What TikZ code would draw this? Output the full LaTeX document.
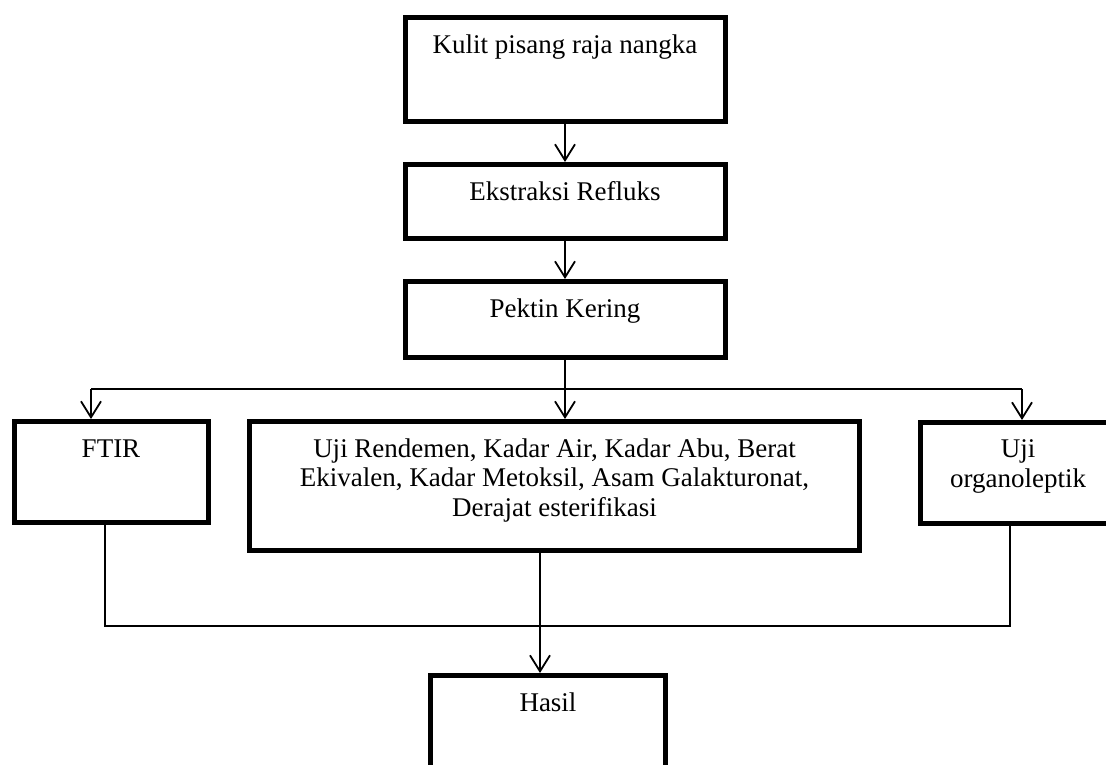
\documentclass[tikz,border=0pt]{standalone}
\usepackage{fontspec}
\setmainfont{Liberation Serif}
\usetikzlibrary{arrows.meta,positioning}

\begin{document}
\begin{tikzpicture}[x = 1pt, y = -1pt, thin line/.style = {line width = 1.8pt}, link/.style = {thin line, -{Straight Barb[length = 16pt, width = 20pt]}}, box/.style = {draw, line width = 5pt, anchor = north, inner xsep = 0pt, inner ysep = 0pt, align = center, text height = 36pt, font = \fontsize{27}{29.5}\selectfont}]
\useasboundingbox (0,0) rectangle (1106,764);
\clip (0,0) rectangle (1106,764);

\node[box, minimum width = 320pt, text height = 35.5pt, text depth = 68.5pt] (kulit) at (565,15) {Kulit pisang raja nangka};
\node[box, minimum width = 320pt, text height = 35.5pt, text depth = 38.5pt] (refluks) at (565,162) {Ekstraksi Refluks};
\node[box, minimum width = 320pt, text depth = 40pt] (pektin) at (565,279) {Pektin Kering};

\node[box, minimum width = 194pt, text height = 35.5pt, text depth = 65.5pt] (ftir) at (111,419) {FTIR};
\node[box, minimum width = 610pt, text height = 94.5pt, text depth = 34.5pt] (uji) at (554.5,419) {Uji Rendemen, Kadar Air, Kadar Abu, Berat\\ Ekivalen, Kadar Metoksil, Asam Galakturonat,\\ Derajat esterifikasi};
\node[box, minimum width = 195pt, text height = 64.5pt, text depth = 36.5pt] (organo) at (1018,420) {Uji\\ organoleptik};
\node[box, minimum width = 235pt, text depth = 100pt] (hasil) at (548,673) {Hasil};

\coordinate (busL) at (91,389);
\coordinate (busM) at (565,389);
\coordinate (busR) at (1022,389);
\coordinate (joinL) at (105,626);
\coordinate (joinM) at (540,626);
\coordinate (joinR) at (1010,626);

\draw[link] (kulit) -- (refluks);
\draw[link] (refluks) -- (pektin);
\draw[thin line] (pektin) -- (busM);
\draw[thin line] (busL) -- (busR);
\draw[link] (busL) -- (busL |- ftir.north);
\draw[link] (busM) -- (busM |- uji.north);
\draw[link] (busR) -- (busR |- organo.north);

\draw[thin line] (ftir.south -| joinL) -- (joinL) -- (joinR) -- (organo.south -| joinR);
\draw[link] (uji.south -| joinM) -- (joinM |- hasil.north);
\end{tikzpicture}
\end{document}
